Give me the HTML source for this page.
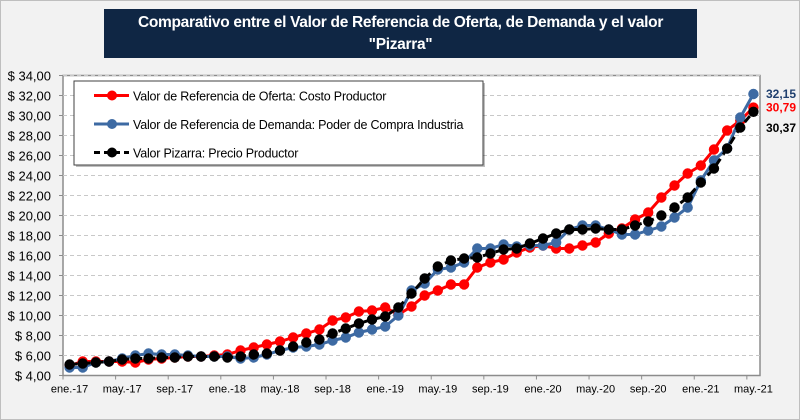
<!DOCTYPE html>
<html><head><meta charset="utf-8"><style>
body{margin:0;background:#f2f2f2;font-family:"Liberation Sans",sans-serif}
#wrap{position:relative;width:800px;height:420px;background:#f2f2f2;box-sizing:border-box;border:1px solid #bfbfbf;overflow:hidden}
#title{position:absolute;left:103px;top:8px;width:593px;height:49px;background:#0f2644;color:#fff;font-weight:bold;font-size:15.5px;letter-spacing:-0.3px;white-space:nowrap;text-align:center;line-height:22px;padding-top:3px;box-sizing:border-box}
</style></head><body>
<div id="wrap">
<div id="title">Comparativo entre el Valor de Referencia de Oferta, de Demanda y el valor<br>"Pizarra"</div>
<svg id="chart" width="800" height="420" style="position:absolute;left:0;top:0"></svg>
</div>
<script>
const categories=["ene.-17","feb.-17","mar.-17","abr.-17","may.-17","jun.-17","jul.-17","ago.-17","sep.-17","oct.-17","nov.-17","dic.-17","ene.-18","feb.-18","mar.-18","abr.-18","may.-18","jun.-18","jul.-18","ago.-18","sep.-18","oct.-18","nov.-18","dic.-18","ene.-19","feb.-19","mar.-19","abr.-19","may.-19","jun.-19","jul.-19","ago.-19","sep.-19","oct.-19","nov.-19","dic.-19","ene.-20","feb.-20","mar.-20","abr.-20","may.-20","jun.-20","jul.-20","ago.-20","sep.-20","oct.-20","nov.-20","dic.-20","ene.-21","feb.-21","mar.-21","abr.-21","may.-21"];
const oferta=[5.0,5.4,5.4,5.4,5.4,5.3,5.6,5.7,5.8,5.9,5.9,6.0,6.1,6.5,6.8,7.1,7.4,7.8,8.2,8.6,9.5,9.8,10.4,10.5,10.8,10.1,10.9,12.0,12.5,13.1,13.1,14.8,15.3,15.6,16.3,16.8,17.0,16.7,16.7,17.0,17.3,18.2,18.7,19.6,20.3,21.8,23.0,24.2,25.0,26.6,28.5,29.5,30.79];
const demanda=[4.8,4.8,5.3,5.4,5.7,6.0,6.2,6.1,6.1,6.0,5.9,5.9,5.9,5.7,5.8,6.1,6.5,6.8,6.9,7.1,7.5,7.8,8.3,8.6,8.9,10.0,12.5,13.2,14.6,14.8,15.3,16.7,16.7,17.1,16.9,17.0,17.0,17.3,18.6,19.0,19.0,18.6,18.1,18.1,18.5,18.9,19.8,20.8,23.5,25.5,26.7,29.8,32.15];
const pizarra=[5.1,5.2,5.3,5.4,5.6,5.7,5.7,5.8,5.8,5.9,5.9,5.9,5.8,5.9,6.1,6.2,6.5,6.9,7.3,7.6,8.2,8.7,9.2,9.6,9.9,10.8,12.2,13.7,14.9,15.5,15.7,15.8,16.2,16.6,16.7,17.2,17.7,18.2,18.6,18.6,18.7,18.6,18.6,19.0,19.4,20.0,20.8,21.8,23.3,24.7,26.7,28.8,30.37];
const yTicks=[4,6,8,10,12,14,16,18,20,22,24,26,28,30,32,34];
const endLabels=["30,79","32,15","30,37"];

const NS="http://www.w3.org/2000/svg";
const svg=document.getElementById('chart');
const L=62,R=759,T=74.5,B=374.5,yMin=4,yMax=34;
const step=(R-L)/categories.length;
const xs=i=>L+step*(i+0.5);
const ys=v=>B-(v-yMin)/(yMax-yMin)*(B-T);
function mk(tag,attrs,parent){const e=document.createElementNS(NS,tag);for(const k in attrs)e.setAttribute(k,attrs[k]);(parent||svg).appendChild(e);return e;}

const plotBg=mk('rect',{x:L,y:T,width:R-L,height:B-T,fill:'#fff',stroke:'#8c8c8c','stroke-width':1.5});


yTicks.forEach(v=>{
  if(v>yMin){const g=mk('line',{x1:L,x2:R,y1:ys(v),y2:ys(v),stroke:'#c8c8c8','stroke-dasharray':'4,3'});
  
  }
  const t=mk('text',{x:50,y:ys(v)+5,'text-anchor':'end','font-size':13,fill:'#000'});
  t.textContent='$ '+v.toFixed(2).replace('.',',');
  
  
  mk('line',{x1:L-4,x2:L,y1:ys(v),y2:ys(v),stroke:'#8c8c8c'});
});
categories.forEach((c,i)=>{
  if(i%4===0){
    const t=mk('text',{x:xs(i),y:B+17,'text-anchor':'middle','font-size':11,fill:'#000'});
    t.textContent=c;
    
    
    mk('line',{x1:L+step*i,x2:L+step*i,y1:B,y2:B+4,stroke:'#8c8c8c'});
  }
});
const series=[{d:demanda,c:'#3d6aa3',n:'series-demanda',dash:null},{d:oferta,c:'#ff0000',n:'series-oferta',dash:null},{d:pizarra,c:'#000',n:'series-pizarra',dash:'8,5'}];
[series[1],series[0],series[2]].forEach(s=>{
  const g=mk('g',{});
  
  
  const p=mk('polyline',{points:s.d.map((v,i)=>xs(i)+','+ys(v)).join(' '),fill:'none',stroke:s.c,'stroke-width':3},g);
  if(s.dash)p.setAttribute('stroke-dasharray',s.dash);
  s.d.forEach((v,i)=>{const c=mk('circle',{cx:xs(i),cy:ys(v),r:5.2,fill:s.c},g);
    
    });
});
const labs=[{t:endLabels[0],v:oferta[52],c:'#ff0000',dy:4},{t:endLabels[1],v:demanda[52],c:'#1f3f6e',dy:4},{t:endLabels[2],v:pizarra[52],c:'#000',dy:20}];
labs.forEach(l=>{const t=mk('text',{x:765,y:ys(l.v)+l.dy,'font-size':12,'font-weight':'bold',fill:l.c});
  t.textContent=l.t;
  
  });
const lg=mk('g',{});


mk('rect',{x:75,y:82,width:409,height:84,fill:'#000',opacity:0.25},lg);
mk('rect',{x:73,y:80,width:409,height:84,fill:'#fff',stroke:'#404040','stroke-width':1},lg);
const items=[{t:'Valor de Referencia de Oferta: Costo Productor',c:'#ff0000',d:null},{t:'Valor de Referencia de Demanda: Poder de Compra Industria',c:'#3d6aa3',d:null},{t:'Valor Pizarra: Precio Productor',c:'#000',d:'6,4'}];
items.forEach((it,k)=>{
  const y=94.5+k*28.5;
  const e=mk('g',{},lg);
  
  
  const ln=mk('line',{x1:93,x2:128,y1:y,y2:y,stroke:it.c,'stroke-width':3},e);
  if(it.d)ln.setAttribute('stroke-dasharray',it.d);
  mk('circle',{cx:111,cy:y,r:5,fill:it.c},e);
  const t=mk('text',{x:132,y:y+5,'font-size':12.5,'letter-spacing':'-0.2',fill:'#000'},e);t.textContent=it.t;
});
</script>
</body></html>
